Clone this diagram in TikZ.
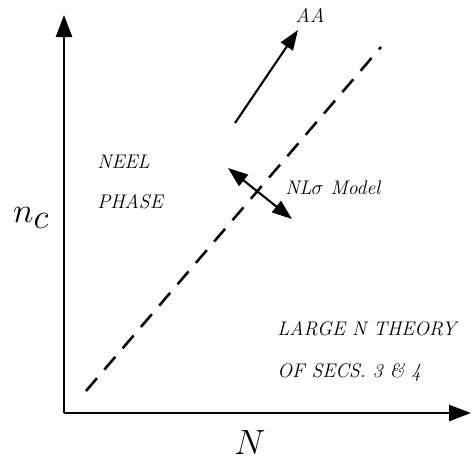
\documentclass[tikz,border=0pt]{standalone}
\usetikzlibrary{arrows.meta}
\tikzset{
  axis/.style={line width=1.8pt,-{Triangle[length=0.55cm,width=0.4cm]}},
  flow/.style={line width=1.5pt,-{Triangle[length=0.5cm,width=0.36cm]}},
  both/.style={line width=1.5pt,{Triangle[length=0.5cm,width=0.36cm]}-{Triangle[length=0.5cm,width=0.36cm]}},
  border/.style={line width=1.8pt,dash pattern=on 12pt off 8pt},
  lbl/.style={font=\fontsize{14}{16}\selectfont\itshape,inner sep=0pt},
}
\begin{document}
\begin{tikzpicture}[x=0.025cm,y=0.025cm]
			\useasboundingbox (0,0) rectangle (472,461);
			% Axes
			\coordinate (O) at (64,48);
			\coordinate (ytip) at (64,446);
			\coordinate (xtip) at (471,48);
			\draw[axis] (O) -- (ytip);
			\draw[axis] (O) -- (xtip);
			\node (nc) at (31,243) {\fontsize{46}{46}\selectfont$n_c$};
			\node (N) at (250,18) {\fontsize{40}{40}\selectfont$N$};
			% Phase boundary
			\coordinate (b1) at (86,70);
			\coordinate (b2) at (381,414);
			\draw[border] (b1) -- (b2);
			% Flows
			\coordinate (a1) at (235,338);
			\coordinate (a2) at (298,431);
			\draw[flow] (a1) -- (a2);
			\node[lbl] (AA) at (310,446) {AA};
			\coordinate (s1) at (228,293);
			\coordinate (s2) at (292,242);
			\draw[both] (s1) -- (s2);
			\node[lbl,anchor=west] (nls) at (285,273) {NL$\sigma$ Model};
			% Regions
			\node[lbl,anchor=west] (neel) at (97,299) {NEEL};
			\node[lbl,anchor=west] (phase) at (97,259) {PHASE};
			\node[lbl,anchor=west] (large) at (277,132) {LARGE N THEORY};
			\node[lbl,anchor=west] (secs) at (277,89) {OF SECS. 3 \& 4};
		\end{tikzpicture}
\end{document}
